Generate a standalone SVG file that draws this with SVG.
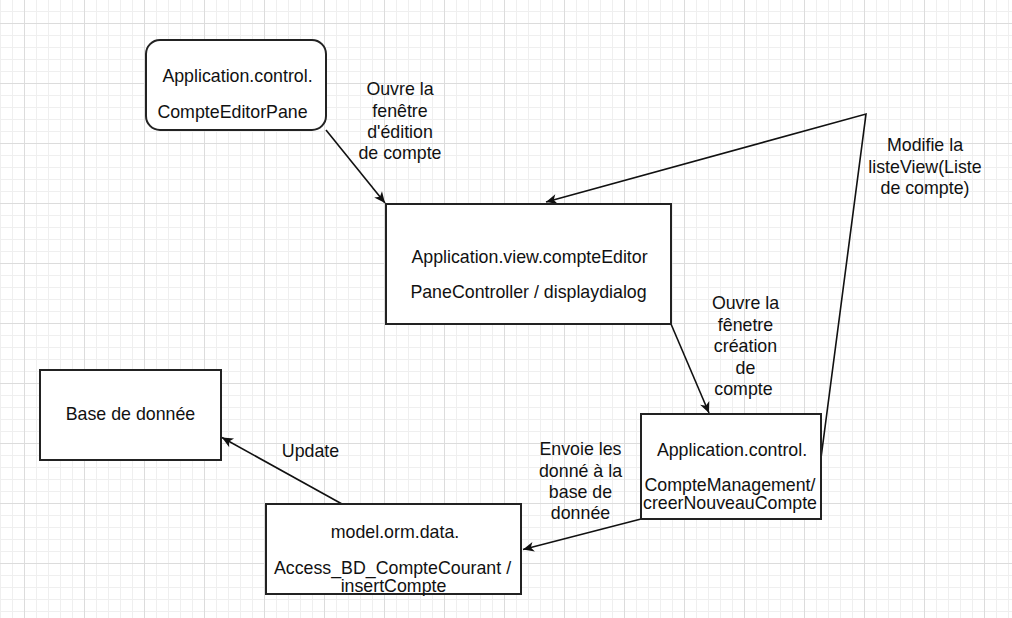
<svg xmlns="http://www.w3.org/2000/svg" width="1012" height="618" viewBox="0 0 1012 618">
  <style>
    .box { fill: #ffffff; stroke: #222222; stroke-width: 2; }
    .t { font-family: "Liberation Sans", Arial, sans-serif; font-size: 17.8px; fill: #111111; text-anchor: middle; }
    .edge { fill: none; stroke: #111111; stroke-width: 1.6; }
  </style>
  <defs>
    <pattern id="grid" patternUnits="userSpaceOnUse" x="24" y="23" width="60" height="60">
      <rect x="12" y="0" width="1" height="60" fill="#efefef"/>
      <rect x="24" y="0" width="1" height="60" fill="#efefef"/>
      <rect x="36" y="0" width="1" height="60" fill="#efefef"/>
      <rect x="48" y="0" width="1" height="60" fill="#efefef"/>
      <rect x="0" y="12" width="60" height="1" fill="#efefef"/>
      <rect x="0" y="24" width="60" height="1" fill="#efefef"/>
      <rect x="0" y="36" width="60" height="1" fill="#efefef"/>
      <rect x="0" y="48" width="60" height="1" fill="#efefef"/>
      <rect x="0" y="0" width="1" height="60" fill="#dcdcdc"/>
      <rect x="0" y="0" width="60" height="1" fill="#dcdcdc"/>
    </pattern>
    <marker id="arr" viewBox="-12 -6 13 12" refX="0" refY="0" markerWidth="13" markerHeight="12" orient="auto" markerUnits="userSpaceOnUse">
      <path d="M0,0 L-11,-5 L-8,0 L-11,5 Z" fill="#111111"/>
    </marker>
  </defs>

  <rect x="0" y="0" width="1012" height="618" fill="#ffffff"/>
  <rect x="0" y="0" width="1012" height="618" fill="url(#grid)"/>

  <g id="connectors">
    <path class="edge" d="M326,130 L385,203" marker-end="url(#arr)"/>
    <path class="edge" d="M671,324 L709,413" marker-end="url(#arr)"/>
    <path class="edge" d="M821,458 L866,114 L546,202" marker-end="url(#arr)"/>
    <path class="edge" d="M641,519 L523,549.5" marker-end="url(#arr)"/>
    <path class="edge" d="M342,504 L222,437.5" marker-end="url(#arr)"/>
  </g>

  <g id="node-compteEditorPane">
    <rect class="box" x="146" y="40" width="180" height="90" rx="14" ry="14"/>
    <text class="t" x="237.5" y="82">Application.control.</text>
    <text class="t" x="232.5" y="118">CompteEditorPane</text>
  </g>

  <g id="node-compteEditor">
    <rect class="box" x="386" y="204" width="285" height="120"/>
    <text class="t" x="529.5" y="263">Application.view.compteEditor</text>
    <text class="t" x="528.5" y="298">PaneController / displaydialog</text>
  </g>

  <g id="node-compteManagement">
    <rect class="box" x="641" y="414" width="180" height="105"/>
    <text class="t" x="732" y="456">Application.control.</text>
    <text class="t" x="730" y="491">CompteManagement/</text>
    <text class="t" x="730" y="508.5">creerNouveauCompte</text>
  </g>

  <g id="node-baseDeDonnee">
    <rect class="box" x="40" y="370" width="181" height="90"/>
    <text class="t" x="130.5" y="420">Base de donnée</text>
  </g>

  <g id="node-accessBD">
    <rect class="box" x="266" y="504" width="255" height="90"/>
    <text class="t" x="395" y="537.5">model.orm.data.</text>
    <text class="t" x="392.5" y="574">Access_BD_CompteCourant /</text>
    <text class="t" x="393.5" y="591.5">insertCompte</text>
  </g>

  <g id="labels">
    <text class="t" x="400" y="95">Ouvre la</text>
    <text class="t" x="400" y="116.5">fenêtre</text>
    <text class="t" x="400" y="137.5">d'édition</text>
    <text class="t" x="400" y="158.5">de compte</text>

    <text class="t" x="925" y="151">Modifie la</text>
    <text class="t" x="925" y="172.5">listeView(Liste</text>
    <text class="t" x="925" y="194">de compte)</text>

    <text class="t" x="745.5" y="309">Ouvre la</text>
    <text class="t" x="745.5" y="330.5">fênetre</text>
    <text class="t" x="745.5" y="352">création</text>
    <text class="t" x="745.5" y="373.5">de</text>
    <text class="t" x="743.5" y="395">compte</text>

    <text class="t" x="580.5" y="454.5">Envoie les</text>
    <text class="t" x="580.5" y="476.5">donné à la</text>
    <text class="t" x="580.5" y="497.5">base de</text>
    <text class="t" x="580.5" y="519">donnée</text>

    <text class="t" x="310.5" y="456.5">Update</text>
  </g>
</svg>
